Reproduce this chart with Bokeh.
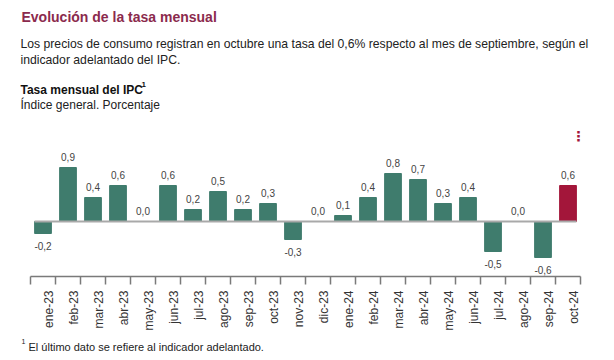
from bokeh.plotting import figure
from bokeh.models import Range1d, FixedTicker, Label, ColumnDataSource, LinearAxis
from bokeh.embed import file_html
from bokeh.resources import INLINE
from bokeh.core.properties import value

# ---- data ----
months = ["ene-23", "feb-23", "mar-23", "abr-23", "may-23", "jun-23", "jul-23",
          "ago-23", "sep-23", "oct-23", "nov-23", "dic-23", "ene-24", "feb-24",
          "mar-24", "abr-24", "may-24", "jun-24", "jul-24", "ago-24", "sep-24", "oct-24"]
rates = [-0.2, 0.9, 0.4, 0.6, 0.0, 0.6, 0.2, 0.5, 0.2, 0.3, -0.3, 0.0,
         0.1, 0.4, 0.8, 0.7, 0.3, 0.4, -0.5, 0.0, -0.6, 0.6]

FONT = "Liberation Sans"
TEAL = "#3f7c6d"
RED = "#a3163a"

W, H = 614, 360
UNIT = 100  # x units per category
n = len(months)
centers = [UNIT * i + UNIT / 2 for i in range(n)]
colors = [TEAL] * (n - 1) + [RED]
labels = [f"{v:.1f}".replace(".", ",") for v in rates]

# frame covers the whole canvas; pixel layout -> ranges
X0_PX, X1_PX = 30, 580          # category band
ZERO_PX, PX_PER_UNIT = 221.0, 60  # y zero line and scale
upx = UNIT * n / (X1_PX - X0_PX)

p = figure(width=W, height=H, output_backend="svg", toolbar_location=None,
           x_axis_type=None, y_axis_type=None,
           min_border_left=0, min_border_right=0, min_border_top=0, min_border_bottom=0)
p.x_range = Range1d(-X0_PX * upx, (W - X0_PX) * upx)
p.y_range = Range1d(-(H - ZERO_PX) / PX_PER_UNIT, ZERO_PX / PX_PER_UNIT)
p.outline_line_color = None
p.xgrid.visible = False
p.ygrid.visible = False
p.background_fill_color = "white"
p.border_fill_color = "white"

bw = 0.67 * UNIT
src = ColumnDataSource(dict(x=centers, top=rates, color=colors))
p.vbar(x="x", top="top", bottom=0, width=bw, color="color", source=src)

# zero line
p.segment(x0=[centers[0] - bw / 2], y0=[0], x1=[centers[-1] + bw / 2], y1=[0],
          line_color="#a9a9a9", line_width=2)

# value labels
pos = [i for i, v in enumerate(rates) if v >= 0]
neg = [i for i, v in enumerate(rates) if v < 0]
p.text(x=[centers[i] for i in pos], y=[rates[i] for i in pos], text=[labels[i] for i in pos],
       text_align="center", text_baseline="alphabetic", y_offset=-11,
       text_font=value(FONT), text_font_size="10px", text_color="#444444")
p.text(x=[centers[i] for i in neg], y=[rates[i] for i in neg], text=[labels[i] for i in neg],
       text_align="center", text_baseline="top", y_offset=8,
       text_font=value(FONT), text_font_size="10px", text_color="#444444")

# x axis: minor ticks at category boundaries, labels near centres
label_pos = [int(UNIT * i + UNIT * 0.74) for i in range(n)]
xaxis = LinearAxis(ticker=FixedTicker(ticks=label_pos, minor_ticks=[UNIT * i for i in range(n + 1)]),
                   bounds=(0, UNIT * n))
xaxis.fixed_location = (ZERO_PX - 276.0) / PX_PER_UNIT
xaxis.major_label_overrides = {lp: m for lp, m in zip(label_pos, months)}
xaxis.major_label_orientation = 3.14159265 / 2
xaxis.major_tick_line_color = None
xaxis.major_tick_out = 0
xaxis.major_tick_in = 0
xaxis.minor_tick_out = 8
xaxis.minor_tick_in = 0
xaxis.minor_tick_line_color = "#7a7a7a"
xaxis.minor_tick_line_width = 1.5
xaxis.axis_line_color = "#7a7a7a"
xaxis.axis_line_width = 1.5
xaxis.major_label_standoff = 6
xaxis.major_label_text_font = FONT
xaxis.major_label_text_font_size = "12px"
xaxis.major_label_text_color = "#333333"
p.add_layout(xaxis, "below")

# texts placed in page pixels (frame == canvas)
def put(txt, xp, yp, size, color="#222222", style="normal", font=FONT):
    p.add_layout(Label(x=xp, y=H - yp, x_units="screen", y_units="screen", text=txt,
                       text_font=font, text_font_size=size, text_color=color,
                       text_font_style=style, text_baseline="alphabetic"))

put("Evolución de la tasa mensual", 21, 16, "14px", "#8b2a4d", "bold")
put("Los precios de consumo registran en octubre una tasa del 0,6% respecto al mes de septiembre, según el",
    20, 43, "12.2px", "#222222")
put("indicador adelantado del IPC.", 20, 59, "12.2px", "#222222")
put("Tasa mensual del IPC", 20, 89, "12px", "#111111", "bold")
put("1", 141, 84, "8px", "#111111", "bold")
put("Índice general. Porcentaje", 20, 104, "12px", "#222222")
put("\u22ee", 571, 135, "14px", "#a3163a", "bold", "DejaVu Sans")
put("1", 21, 341, "7px", "#222222")
put("El último dato se refiere al indicador adelantado.", 28, 346, "11px", "#222222")

open("out.html", "w").write(file_html(p, INLINE))
